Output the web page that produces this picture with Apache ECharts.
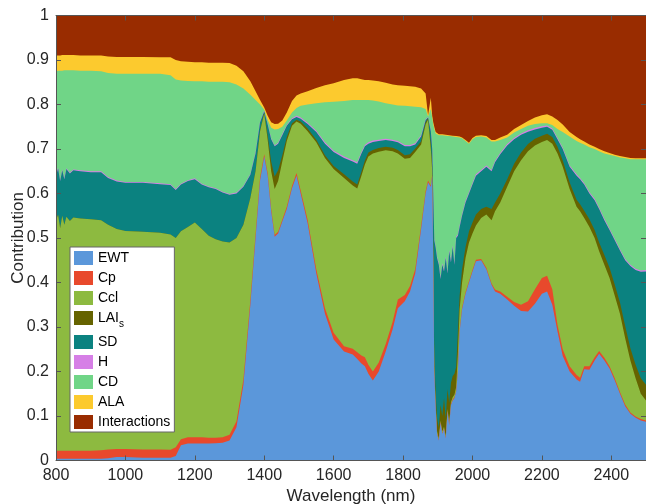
<!DOCTYPE html>
<html><head><meta charset="utf-8">
<script src="https://cdn.jsdelivr.net/npm/echarts@6.0.0/dist/echarts.min.js"></script>
<style>html,body{margin:0;padding:0;background:#fff}#c{width:646px;height:504px}</style>
</head><body><div id="c"></div>
<script>
const wavelength = [800,806,812,818,824,830,840,850,870,900,930,950,975,1000,1050,1100,1130,1145,1160,1180,1200,1220,1240,1260,1280,1300,1320,1340,1360,1375,1388,1400,1410,1420,1430,1440,1452,1465,1480,1493,1505,1525,1550,1575,1600,1630,1655,1668,1680,1690,1700,1713,1730,1750,1770,1785,1805,1820,1835,1852,1865,1872,1880,1884,1887,1890,1894,1898,1903,1908,1913,1918,1923,1928,1933,1938,1943,1948,1953,1958,1963,1970,1980,1990,2000,2010,2025,2040,2055,2065,2080,2100,2120,2140,2160,2180,2200,2215,2230,2245,2260,2280,2300,2310,2322,2337,2352,2365,2380,2395,2410,2425,2440,2455,2470,2485,2500];

const EWT = [.004,.004,.004,.004,.004,.004,.004,.004,.004,.004,.004,
.005,.008,.008,.006,.006,.006,.010,.034,.038,.038,
.038,.038,.039,.040,.045,.075,.170,.350,.500,.630,
.683,.640,.560,.503,.510,.537,.565,.612,.640,.600,
.533,.420,.330,.272,.245,.238,.228,.218,.212,.195,
.180,.200,.245,.295,.342,.358,.380,.420,.520,.600,
.625,.615,.640,.450,.200,.120,.060,.045,.085,.060,
.070,.050,.110,.080,.125,.135,.140,.155,.200,.290,
.340,.375,.400,.425,.448,.450,.430,.395,.380,.375,
.362,.348,.336,.335,.352,.375,.380,.350,.290,.235,
.200,.182,.177,.205,.204,.225,.240,.225,.207,.180,
.150,.122,.105,.096,.090,.087];

const Cp = [.018,.018,.018,.018,.018,.018,.018,.018,.018,.018,.019,
.020,.018,.018,.019,.019,.018,.020,.014,.014,.014,
.014,.013,.012,.012,.013,.013,.012,.010,.008,.006,
.005,.005,.005,.004,.004,.004,.005,.005,.006,.007,
.008,.010,.012,.015,.012,.013,.015,.018,.020,.020,
.020,.020,.017,.017,.020,.014,.012,.010,.007,.005,
.004,.003,.002,.002,.002,.002,.002,.002,.002,.002,
.002,.002,.002,.002,.002,.002,.002,.002,.003,.003,
.003,.003,.003,.003,.003,.003,.003,.003,.004,.005,
.006,.008,.014,.023,.033,.035,.035,.035,.015,.015,
.012,.010,.009,.007,.008,.007,.006,.006,.005,.005,
.004,.004,.003,.003,.003,.003];

const Ccl = [.518,.530,.500,.528,.508,.526,.516,.524,.522,.520,.517,
.505,.494,.490,.489,.487,.484,.470,.467,.473,.483,
.468,.454,.446,.440,.432,.412,.348,.230,.142,.104,
.092,.075,.085,.103,.114,.131,.148,.135,.116,.150,
.199,.285,.338,.368,.378,.367,.368,.404,.433,.468,
.490,.474,.435,.383,.328,.306,.288,.263,.183,.150,
.137,.082,.008,.008,.008,.006,.004,.003,.003,.003,
.004,.003,.004,.004,.004,.005,.006,.008,.037,.047,
.057,.077,.087,.082,.077,.092,.120,.142,.176,.200,
.247,.294,.325,.337,.323,.306,.305,.327,.385,.410,
.398,.378,.374,.333,.313,.268,.224,.209,.198,.185,
.176,.149,.117,.086,.057,.045];

const LAIs = [0,0,0,0,0,0,0,0,0,0,0,
0,0,0,0,0,0,0,0,0,0,
0,0,0,0,0,0,0,0,0,.002,
.002,.010,.022,.028,.024,.014,.009,.006,.004,.005,
.006,.006,.006,.007,.008,.009,.009,.009,.009,.009,
.008,.008,.008,.008,.008,.008,.008,.008,.007,.005,
.003,.010,.010,.020,.020,.022,.029,.025,.035,.035,
.064,.040,.044,.044,.044,.048,.047,.045,.050,.030,
.030,.025,.025,.025,.025,.020,.017,.025,.020,.020,
.017,.017,.017,.016,.015,.014,.014,.015,.015,.015,
.015,.016,.016,.016,.017,.018,.020,.022,.023,.025,
.025,.027,.027,.030,.035,.035];

const SD = [.100,.104,.106,.102,.102,.107,.107,.106,.106,.106,.108,
.105,.107,.108,.110,.109,.111,.108,.105,.103,.097,
.100,.109,.113,.110,.107,.100,.085,.052,.040,.018,
.003,.025,.050,.068,.060,.045,.025,.009,.006,.006,
.010,.017,.026,.031,.037,.045,.047,.041,.032,.020,
.018,.016,.015,.015,.017,.020,.018,.009,.011,.005,
.002,.030,.040,.120,.265,.328,.360,.365,.283,.340,
.285,.360,.260,.340,.270,.290,.245,.290,.215,.155,
.120,.100,.085,.085,.087,.085,.090,.085,.090,.088,
.076,.055,.040,.028,.021,.018,.016,.016,.017,.025,
.035,.054,.056,.059,.058,.067,.075,.078,.085,.100,
.117,.148,.185,.213,.239,.255];

const H = [.002,.002,.002,.002,.002,.002,.002,.002,.002,.002,.002,
.002,.002,.002,.002,.002,.002,.002,.002,.002,.002,
.002,.002,.002,.002,.002,.002,.002,.002,.002,.002,
.001,.002,.002,.002,.002,.002,.002,.002,.003,.003,
.003,.003,.003,.003,.003,.003,.003,.003,.003,.003,
.003,.003,.003,.003,.003,.003,.003,.003,.003,.002,
.001,.002,.002,.002,.003,.003,.003,.003,.003,.003,
.003,.003,.003,.003,.003,.003,.003,.003,.003,.003,
.003,.003,.003,.003,.003,.003,.003,.003,.003,.003,
.003,.003,.003,.003,.003,.003,.003,.003,.003,.003,
.003,.003,.003,.003,.003,.003,.003,.003,.003,.003,
.003,.003,.003,.003,.003,.003];

const CD = [.233,.218,.246,.222,.243,.220,.230,.223,.224,.226,.225,
.234,.240,.243,.243,.246,.245,.246,.232,.223,.218,
.230,.235,.239,.247,.251,.243,.219,.178,.118,.038,
.002,.008,.024,.036,.031,.017,.010,.013,.017,.026,
.041,.062,.090,.110,.125,.135,.140,.117,.101,.095,
.090,.086,.080,.079,.080,.088,.087,.082,.063,.023,
.001,.048,.068,.153,.247,.254,.274,.288,.320,.288,
.302,.272,.306,.256,.280,.245,.284,.224,.219,.198,
.171,.135,.109,.099,.084,.075,.063,.064,.044,.029,
.015,.012,.010,.010,.009,.007,.005,.008,.020,.035,
.065,.075,.079,.087,.101,.112,.127,.147,.166,.186,
.206,.226,.237,.246,.250,.249];

const ALA = [.035,.034,.034,.035,.034,.034,.034,.034,.034,.034,.035,
.037,.038,.038,.038,.037,.040,.044,.043,.043,.043,
.043,.043,.043,.043,.043,.042,.039,.030,.020,.010,
.005,.010,.012,.012,.012,.014,.018,.026,.028,.028,
.030,.034,.038,.042,.047,.049,.049,.047,.045,.045,
.045,.045,.046,.045,.045,.045,.045,.045,.042,.035,
.003,.025,.005,.005,.005,.003,.002,.002,.002,.002,
.002,.002,.002,.002,.002,.002,.002,.002,.002,.002,
.002,.002,.002,.003,.003,.003,.003,.003,.003,.006,
.006,.008,.009,.011,.015,.018,.020,.019,.020,.017,
.010,.009,.008,.007,.006,.005,.005,.005,.004,.003,
.003,.003,.003,.002,.002,.002];

const Interactions = [.090,.090,.090,.089,.089,.089,.089,.089,.090,.090,.090,
.092,.093,.093,.093,.094,.094,.100,.103,.104,.105,
.105,.106,.106,.106,.107,.113,.125,.148,.170,.190,
.207,.225,.240,.244,.243,.236,.218,.192,.180,.175,
.170,.163,.157,.152,.145,.141,.141,.143,.145,.145,
.146,.148,.151,.155,.157,.158,.159,.160,.164,.175,
.224,.185,.225,.240,.250,.262,.266,.267,.267,.267,
.268,.268,.269,.269,.270,.270,.271,.271,.271,.272,
.274,.280,.286,.275,.270,.269,.271,.280,.280,.274,
.268,.255,.246,.237,.229,.224,.222,.227,.235,.245,
.262,.273,.278,.283,.290,.295,.300,.305,.309,.313,
.316,.318,.320,.321,.321,.321];

const xTicks = [800,1000,1200,1400,1600,1800,2000,2200,2400];
const yTicks = [0,0.1,0.2,0.3,0.4,0.5,0.6,0.7,0.8,0.9,1];

const seriesNames = ['EWT','Cp','Ccl','LAIs','SD','H','CD','ALA','Interactions'];
const seriesValues = [EWT,Cp,Ccl,LAIs,SD,H,CD,ALA,Interactions];
const seriesColors = ['#5b97da','#e8492c','#8dba40','#656300','#0b8280','#d67fe6','#70d587','#fcca2e','#992c00'];

const FONT = "'Liberation Sans', Arial, Helvetica, sans-serif";
const TXT = '#262626';
const AX = '#555';

const chart = echarts.init(document.getElementById('c'), null, {renderer:'canvas'});

const xMin = xTicks[0], xStep = xTicks[1]-xTicks[0];
const yStep = yTicks[1]-yTicks[0];

function xAx(pos, withLabels){
  return {
    type:'value', position:pos, min:xMin, max:2500, interval:xStep, z:10,
    axisLine:{show:true, onZero:false, lineStyle:{color:AX, width:1}},
    axisTick:{show:true, inside:true, length:5, lineStyle:{color:AX}},
    axisLabel:{show:withLabels, fontSize:16, color:TXT, margin:7, fontFamily:FONT, showMaxLabel:false,
      formatter: v => String(v)},
    splitLine:{show:false},
    name: withLabels ? 'Wavelength (nm)' : '', nameLocation:'middle', nameGap:27, nameMoveOverlap:false,
    nameTextStyle:{fontSize:17, color:TXT, fontFamily:FONT}
  };
}
function yAx(pos, withLabels){
  return {
    type:'value', position:pos, min:yTicks[0], max:yTicks[yTicks.length-1], interval:yStep, z:10,
    axisLine:{show:true, onZero:false, lineStyle:{color:AX, width:1}},
    axisTick:{show:true, inside:true, length:5, lineStyle:{color:AX}},
    axisLabel:{show:withLabels, fontSize:16, color:TXT, margin:7, fontFamily:FONT,
      formatter: v => String(Math.round(v*10)/10)},
    splitLine:{show:false},
    name: withLabels ? 'Contribution' : '', nameLocation:'middle', nameGap:29, nameRotate:90, nameMoveOverlap:false,
    nameTextStyle:{fontSize:17, color:TXT, fontFamily:FONT}
  };
}

// stack the layers (running total), then draw top layer first so lower layers sit in front
const stackedTops = [];
let running = wavelength.map(() => 0);
seriesValues.forEach(vals => {
  running = running.map((r, i) => r + vals[i]);
  stackedTops.push(running);
});

const series = seriesNames.map((n,k)=>({
  name:n, type:'line', xAxisIndex:0, yAxisIndex:0,
  data: wavelength.map((w,i)=>[w, stackedTops[k][i]]),
  symbol:'none', showSymbol:false, silent:true, clip:true,
  lineStyle:{width:0},
  itemStyle:{color:seriesColors[k]},
  areaStyle:{color:seriesColors[k], opacity:1, origin:'start'},
  emphasis:{disabled:true},
  z: 2 + (seriesNames.length - k) * 0.01
})).reverse();

chart.setOption({
  animation:false,
  backgroundColor:'#fff',
  textStyle:{fontFamily:FONT},
  grid:{left:56, right:0, top:15.5, bottom:43.5, containLabel:false, outerBoundsMode:'none'},
  xAxis:[xAx('bottom', true), xAx('top', false)],
  yAxis:[yAx('left', true), yAx('right', false)],
  legend:{
    data:seriesNames, orient:'vertical', left:70, top:247,
    itemWidth:19, itemHeight:14, itemGap:6, icon:'rect',
    backgroundColor:'#fff', borderColor:'#666', borderWidth:1, borderRadius:0,
    padding:[4,4,3,4], selectedMode:false, z:20,
    textStyle:{fontSize:14, color:'#000', fontFamily:FONT,
      rich:{s:{fontSize:10, padding:[12,0,0,0], color:'#000', fontFamily:FONT}}},
    formatter: n => n === 'LAIs' ? 'LAI{s|s}' : n
  },
  series: series
});
</script>
</body></html>
